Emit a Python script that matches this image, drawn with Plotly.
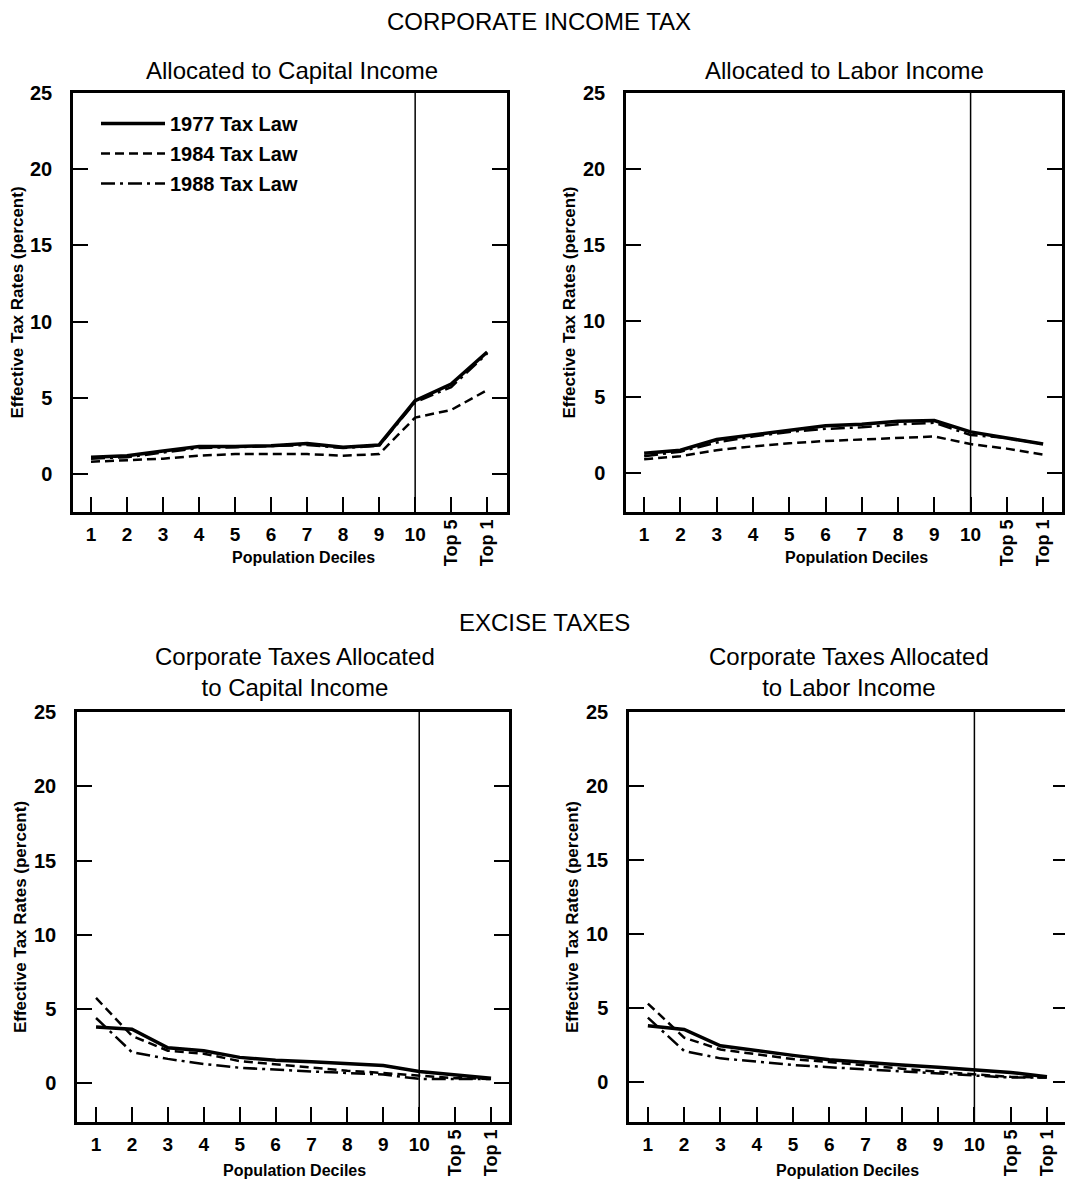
import plotly.graph_objects as go

# ---------------- data ----------------
deciles = [1, 2, 3, 4, 5, 6, 7, 8, 9, 10, 11, 12]
decile_tick_vals = [1, 2, 3, 4, 5, 6, 7, 8, 9, 10]
decile_tick_text = ["1", "2", "3", "4", "5", "6", "7", "8", "9", "10"]
top_tick_vals = [11, 12]
top_tick_text = ["Top 5", "Top 1"]
y_tick_vals = [0, 5, 10, 15, 20, 25]
top_decile_boundary = 10

series_names = ["1977 Tax Law", "1984 Tax Law", "1988 Tax Law"]

# Corporate income tax, allocated to capital income
cit_cap_1977 = [1.1, 1.2, 1.5, 1.8, 1.8, 1.85, 2.0, 1.75, 1.9, 4.8, 5.9, 8.0]
cit_cap_1984 = [0.8, 0.9, 1.0, 1.2, 1.3, 1.3, 1.3, 1.2, 1.3, 3.7, 4.2, 5.5]
cit_cap_1988 = [1.0, 1.1, 1.4, 1.7, 1.75, 1.8, 1.9, 1.7, 1.85, 4.7, 5.7, 7.9]

# Corporate income tax, allocated to labor income
cit_lab_1977 = [1.3, 1.5, 2.2, 2.5, 2.8, 3.1, 3.2, 3.4, 3.45, 2.7, 2.3, 1.9]
cit_lab_1984 = [0.9, 1.1, 1.5, 1.75, 1.95, 2.1, 2.2, 2.3, 2.4, 1.9, 1.6, 1.2]
cit_lab_1988 = [1.1, 1.4, 2.0, 2.4, 2.7, 2.9, 3.0, 3.2, 3.3, 2.5, 2.3, 1.9]

# Excise taxes, corporate taxes allocated to capital income
exc_cap_1977 = [3.8, 3.65, 2.4, 2.2, 1.75, 1.55, 1.45, 1.3, 1.2, 0.8, 0.6, 0.35]
exc_cap_1984 = [5.75, 3.2, 2.2, 2.0, 1.5, 1.3, 1.05, 0.85, 0.7, 0.5, 0.35, 0.3]
exc_cap_1988 = [4.4, 2.1, 1.65, 1.3, 1.05, 0.9, 0.8, 0.7, 0.6, 0.3, 0.3, 0.3]

# Excise taxes, corporate taxes allocated to labor income
exc_lab_1977 = [3.8, 3.55, 2.45, 2.1, 1.8, 1.5, 1.3, 1.15, 1.0, 0.85, 0.65, 0.35]
exc_lab_1984 = [5.3, 3.0, 2.2, 1.9, 1.55, 1.35, 1.1, 0.9, 0.7, 0.55, 0.35, 0.3]
exc_lab_1988 = [4.35, 2.1, 1.6, 1.35, 1.15, 1.0, 0.85, 0.7, 0.55, 0.45, 0.3, 0.3]

section_titles = ["CORPORATE INCOME TAX", "EXCISE TAXES"]
panel_titles = [
    "Allocated to Capital Income",
    "Allocated to Labor Income",
    "Corporate Taxes Allocated<br>to Capital Income",
    "Corporate Taxes Allocated<br>to Labor Income",
]
x_title = "Population Deciles"
y_title = "Effective Tax Rates (percent)"

panels = [
    [cit_cap_1977, cit_cap_1984, cit_cap_1988],
    [cit_lab_1977, cit_lab_1984, cit_lab_1988],
    [exc_cap_1977, exc_cap_1984, exc_cap_1988],
    [exc_lab_1977, exc_lab_1984, exc_lab_1988],
]

# ---------------- layout geometry (screen pixels) ----------------
W, H = 1073, 1192
OFF = 8  # page body margin
def fx(p):
    return (p - OFF) / W
def fy(p):
    return 1 - (p - OFF) / H

# (left, right, top, bottom) in px, x-range, y-range
geo = [
    ((73, 507, 93, 512), [0.5, 12.55], [-2.5, 25]),
    ((626, 1062, 93, 512), [0.5, 12.52], [-2.57, 25]),
    ((77, 509, 712, 1122), [0.47, 12.5], [-2.6, 25]),
    ((629, 1068, 712, 1122), [0.48, 12.58], [-2.7, 25]),
]

BOLD = "Liberation Sans, Arial, sans-serif"
REG = "Liberation Sans, Arial, sans-serif"

line_styles = [
    dict(color="black", width=3.5, dash="solid"),
    dict(color="black", width=2.5, dash="9px,5px"),
    dict(color="black", width=2.5, dash="14px,5px,3px,5px"),
]

fig = go.Figure()

for i, series in enumerate(panels):
    xa = "x" if i == 0 else f"x{i+1}"
    ya = "y" if i == 0 else f"y{i+1}"
    for j, vals in enumerate(series):
        fig.add_trace(go.Scatter(
            x=deciles, y=vals, mode="lines", name=series_names[j],
            line=line_styles[j], xaxis=xa, yaxis=ya,
            showlegend=(i == 0), legendgroup=series_names[j],
        ))
    # empty helper trace so the overlay axis (rotated "Top" labels) is drawn
    fig.add_trace(go.Scatter(
        x=top_tick_vals, y=[None, None], mode="lines", xaxis=f"x{i+5}", yaxis=ya,
        showlegend=False, hoverinfo="skip",
    ))

layout = dict(
    width=W, height=H,
    margin=dict(l=0, r=0, t=0, b=0, autoexpand=False),
    paper_bgcolor="white", plot_bgcolor="white",
    font=dict(family=BOLD, color="black"),
    legend=dict(
        x=fx(96), y=fy(104), xanchor="left", yanchor="top",
        bgcolor="rgba(0,0,0,0)", traceorder="grouped", tracegroupgap=1,
        font=dict(family=BOLD, size=20, color="black", weight="bold"),
        itemwidth=64,
    ),
    shapes=[], annotations=[],
)

axis_common = dict(showgrid=False, zeroline=False, linecolor="black", linewidth=2.5,
                   ticks="inside", ticklen=15, tickwidth=2.2, tickcolor="black",
                   automargin=False)

for i, ((l, r, t, b), xr, yr) in enumerate(geo):
    n = i + 1
    xk = "xaxis" if n == 1 else f"xaxis{n}"
    yk = "yaxis" if n == 1 else f"yaxis{n}"
    xref = "x" if n == 1 else f"x{n}"
    yref = "y" if n == 1 else f"y{n}"
    layout[xk] = dict(axis_common, domain=[fx(l), fx(r)], range=xr, anchor=yref,
                      showline=True, mirror=True,
                      tickvals=decile_tick_vals, ticktext=decile_tick_text, tickangle=0,
                      ticklabelstandoff=3,
                      tickfont=dict(family=BOLD, size=19, weight="bold"))
    layout[yk] = dict(axis_common, domain=[fy(b), fy(t)], range=yr, anchor=xref,
                      showline=True, mirror="ticks",
                      tickvals=y_tick_vals, ticklabelstandoff=14,
                      tickfont=dict(family=BOLD, size=20, weight="bold"),
                      title=dict(text=y_title, standoff=4,
                                 font=dict(family=BOLD, size=17, weight="bold")))
    # overlay axis for rotated "Top" labels
    ok = f"xaxis{n+4}"
    layout[ok] = dict(axis_common, domain=[fx(l), fx(r)], range=xr, overlaying=xref,
                      anchor=yref, side="bottom", showline=False,
                      tickvals=top_tick_vals, ticktext=top_tick_text, tickangle=-90,
                      ticklabelstandoff=3,
                      tickfont=dict(family=BOLD, size=18, weight="bold"))
    layout["shapes"].append(dict(type="line", xref=xref, yref=f"{yref} domain",
                                 x0=top_decile_boundary, x1=top_decile_boundary, y0=0, y1=1,
                                 line=dict(color="black", width=1.5)))
    # panel title
    title_y = 70 if n <= 2 else 672
    layout["annotations"].append(dict(
        text=panel_titles[i], xref="paper", yref="paper",
        x=fx((l + r) / 2 + (2 if n % 2 else 0)), y=fy(title_y), xanchor="center", yanchor="middle",
        showarrow=False, font=dict(family=REG, size=24, color="black")))
    # x-axis title
    xt_x = [303, 856, 294, 847][i]
    xt_y = 557 if n <= 2 else 1170
    layout["annotations"].append(dict(
        text=x_title, xref="paper", yref="paper", x=fx(xt_x), y=fy(xt_y),
        xanchor="center", yanchor="middle", showarrow=False,
        font=dict(family=BOLD, size=16, color="black", weight="bold")))

layout["annotations"].append(dict(text=section_titles[0], xref="paper", yref="paper",
                                  x=fx(539), y=fy(22), xanchor="center", yanchor="middle",
                                  showarrow=False, font=dict(family=REG, size=24, color="black")))
layout["annotations"].append(dict(text=section_titles[1], xref="paper", yref="paper",
                                  x=fx(544), y=fy(622), xanchor="center", yanchor="middle",
                                  showarrow=False, font=dict(family=REG, size=24, color="black")))

fig.update_layout(**layout)
fig.write_html("out.html")
